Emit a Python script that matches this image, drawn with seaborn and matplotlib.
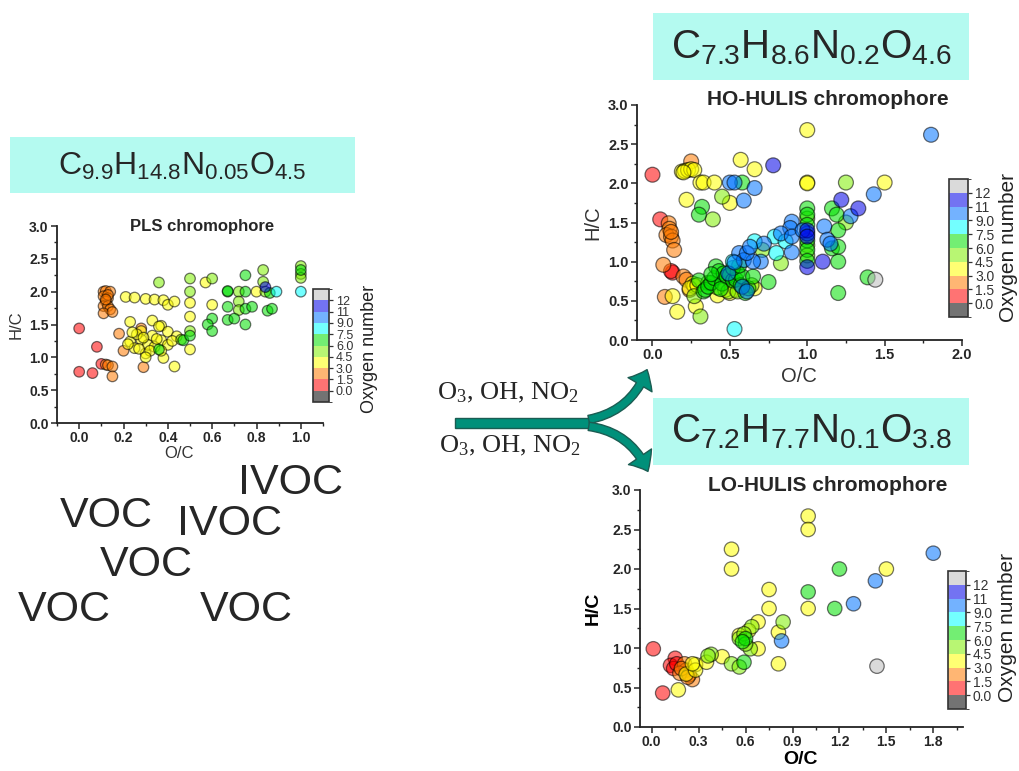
import numpy as np
import pandas as pd
import matplotlib
matplotlib.use('Agg')
import matplotlib.pyplot as plt
import matplotlib.colors as mcolors
from matplotlib.patches import Rectangle, FancyArrowPatch
from matplotlib.ticker import MultipleLocator, FormatStrFormatter
import seaborn as sns

sns.set_style('ticks')
plt.rcParams['font.family'] = ['Liberation Sans', 'DejaVu Sans']

# ---- dados: PLS chromophore (O/C, H/C, numero de oxigenios) ----
pls_oc = [0.00, 0.00, 0.06, 0.08, 0.10,
          0.11, 0.12, 0.14, 0.11, 0.13, 0.12, 0.11, 0.13, 0.14, 0.11, 0.15, 0.13, 0.12,
          0.12, 0.13, 0.15, 0.15, 0.18, 0.20, 0.29, 0.28,
          0.21, 0.25, 0.30, 0.34, 0.38, 0.40, 0.43,
          0.23, 0.28, 0.33, 0.37, 0.40, 0.23, 0.28, 0.25, 0.30, 0.33, 0.37, 0.38, 0.40,
          0.44, 0.43, 0.31, 0.34, 0.36, 0.26, 0.22, 0.27, 0.29, 0.32, 0.35, 0.30, 0.37,
          0.24, 0.42, 0.50, 0.50, 0.50, 0.57, 0.60, 0.80,
          0.36, 0.50, 0.50, 0.50, 0.60, 0.72, 0.72, 0.72, 0.83, 0.83, 0.84, 1.00, 1.00,
          1.00, 0.46,
          0.36, 0.47, 0.50, 0.60, 0.58, 0.60, 0.67, 0.75, 0.75, 0.86, 0.67, 0.75, 0.78,
          0.67, 0.70, 0.75, 0.85, 0.87, 1.00, 0.67,
          0.84, 0.89, 1.00]
pls_hc = [1.44, 0.78, 0.76, 1.16, 0.90,
          2.00, 2.01, 2.00, 1.93, 1.90, 1.85, 1.78, 1.78, 1.73, 1.67, 1.69, 1.95, 1.88,
          0.89, 0.88, 0.86, 0.71, 1.36, 1.10, 0.85, 1.44,
          1.92, 1.91, 1.89, 1.88, 1.87, 1.80, 1.85,
          1.54, 1.40, 1.56, 1.48, 1.39, 1.24, 1.27, 1.14, 1.06, 1.33, 1.26, 0.99, 1.19,
          1.32, 0.86, 1.19, 1.16, 1.47, 1.35, 1.20, 1.13, 1.30, 1.10, 1.28, 1.00, 1.10,
          1.38, 1.25, 1.83, 1.62, 1.12, 2.14, 1.80, 2.00,
          2.14, 2.20, 2.00, 1.40, 2.20, 2.00, 1.85, 1.72, 2.33, 2.15, 2.00, 2.39, 2.27,
          2.21, 1.27,
          1.12, 1.26, 1.33, 1.59, 1.50, 1.40, 2.00, 2.00, 2.25, 1.98, 1.77, 1.74, 1.77,
          1.57, 1.59, 1.50, 1.71, 1.74, 2.33, 2.01,
          2.07, 2.00, 2.00]
pls_ox = [1] * 5 + [2] * 21 + [3] * 7 + [4] * 34 + [5] * 15 + [6] * 20 + [11, 8, 8]

# ---- dados: HO-HULIS chromophore ----
ho_oc = [0.00, 0.05, 0.13, 0.12,
         0.25, 0.105, 0.11, 0.09, 0.12, 0.13, 0.14, 0.07, 0.20, 0.22, 0.08, 0.24, 0.12,
         0.19, 0.21, 0.23, 0.25, 0.27, 0.20, 0.57, 0.66, 0.31, 0.33, 0.40, 0.22, 0.50,
         1.00, 1.00, 1.00, 1.50, 0.13, 0.16, 0.28, 0.26, 0.27, 0.24, 0.29, 0.42, 0.50,
         0.47, 0.54, 0.66,
         0.45, 0.39, 0.31, 0.27, 0.42, 0.49, 0.55, 0.64, 0.36, 0.83, 0.71, 1.25, 1.25,
         1.00, 1.00, 1.00,
         0.58, 0.32, 0.30, 0.30, 0.33, 0.34, 0.36, 0.38, 0.40, 0.41, 0.43, 0.45, 0.46,
         0.48, 0.50, 0.52, 0.54, 0.55, 0.57, 0.58, 0.60, 0.62, 0.65, 0.44, 0.52, 0.56,
         0.38, 0.75, 1.00, 1.00, 1.00, 1.00, 1.00, 1.00, 1.16, 1.19, 1.20, 1.16, 1.20,
         1.20, 1.39, 1.20,
         0.66, 0.53, 0.52, 0.79, 0.86, 0.80,
         0.50, 0.53, 0.66, 0.59, 1.80, 1.43, 1.28, 1.11, 1.13, 1.15, 0.90, 0.89, 0.83,
         0.90, 0.90, 0.72, 0.70, 0.56, 0.59, 0.65, 0.58, 0.61, 0.49, 0.53, 0.61, 0.63,
         1.00, 0.97,
         0.78, 1.22, 1.33, 1.10, 1.00, 1.00, 1.00,
         1.44]
ho_hc = [2.11, 1.54, 0.86, 0.88,
         2.28, 1.49, 1.42, 1.34, 1.32, 1.27, 1.15, 0.96, 0.81, 0.77, 0.55, 0.64, 1.38,
         2.15, 2.16, 2.17, 2.18, 2.17, 2.14, 2.30, 2.18, 2.01, 2.01, 2.01, 1.79, 1.75,
         2.68, 2.01, 2.00, 2.01, 0.56, 0.36, 0.43, 0.72, 0.69, 0.66, 0.70, 0.57, 0.60,
         0.64, 0.64, 0.66,
         1.83, 1.54, 0.30, 0.56, 0.67, 0.62, 0.62, 0.70, 0.73, 0.98, 1.15, 2.01, 1.50,
         1.55, 1.21, 1.08,
         2.01, 1.70, 1.60, 0.76, 0.62, 0.64, 0.68, 0.73, 0.79, 0.94, 0.88, 0.72, 0.85,
         0.81, 0.83, 0.76, 0.77, 0.86, 0.70, 0.81, 0.60, 0.66, 0.81, 0.65, 0.92, 0.95,
         0.84, 0.74, 1.68, 1.60, 1.47, 1.27, 1.15, 1.01, 1.68, 1.60, 1.40, 1.17, 1.19,
         1.00, 0.80, 0.60,
         1.26, 0.14, 1.00, 1.32, 1.26, 1.11,
         2.01, 2.01, 1.94, 1.78, 2.62, 1.86, 1.58, 1.45, 1.28, 1.23, 1.51, 1.43, 1.36,
         1.32, 1.12, 1.23, 1.00, 1.11, 1.02, 1.00, 0.68, 0.62, 0.85, 0.99, 1.11, 1.19,
         1.36, 1.40,
         2.23, 1.79, 1.68, 1.00, 0.93, 1.40, 1.32,
         0.77]
ho_ox = [1] * 4 + [2] * 13 + [4] * 29 + [5] * 16 + [7] * 42 + [8] * 6 + [10] * 28 + [11] * 7 + [13]

# ---- dados: LO-HULIS chromophore ----
lo_oc = [0.01, 0.07, 0.15, 0.12, 0.14, 0.16,
         0.21, 0.22, 0.18, 0.26, 0.24, 0.19, 0.23,
         0.17, 0.22, 0.28, 0.28, 0.26, 0.35, 0.45, 0.51, 0.51, 0.75, 0.75, 0.68, 0.68,
         0.81, 0.81, 1.00, 1.00, 1.00, 1.50, 0.62, 0.56,
         0.38, 0.51, 0.56, 0.84, 0.64, 0.56, 0.59, 0.63, 0.36, 0.60,
         0.59, 0.60, 1.00, 1.17, 1.20, 0.58,
         0.83, 1.29, 1.43, 1.80,
         1.44]
lo_hc = [0.99, 0.43, 0.87, 0.78, 0.74, 0.80,
         0.80, 0.72, 0.68, 0.60, 0.66, 0.74, 0.63,
         0.47, 0.67, 0.79, 0.72, 0.80, 0.82, 0.89, 2.25, 2.00, 1.74, 1.50, 1.33, 0.99,
         1.20, 0.80, 2.67, 2.50, 1.50, 2.00, 1.22, 1.16,
         0.92, 0.80, 0.76, 1.33, 1.27, 1.12, 1.18, 0.99, 0.90, 1.05,
         0.82, 1.12, 1.71, 1.50, 2.00, 1.08,
         1.09, 1.56, 1.85, 2.20,
         0.77]
lo_ox = [1] * 6 + [2] * 7 + [4] * 21 + [5] * 10 + [7] * 6 + [10] * 4 + [13]

# escala discreta do numero de oxigenios
limites = [-1.5, 0, 1.5, 3, 4.5, 6, 7.5, 9, 11, 12, 13.5]
marcas_cb = [0, 1.5, 3, 4.5, 6, 7.5, 9, 11, 12]
rotulos_cb = ['0.0', '1.5', '3.0', '4.5', '6.0', '7.5', '9.0', '11', '12']
cores = ['#000000', '#ff0000', '#ff7a00', '#ffff00', '#7ff000',
         '#00e000', '#00ffff', '#0074ff', '#0000e8', '#bdbdbd']
cmap = mcolors.ListedColormap(cores)
norm = mcolors.BoundaryNorm(limites, cmap.N)
ALFA = 0.55

W, H = 1019, 771
fig = plt.figure(figsize=(W / 100, H / 100), dpi=100)


def px(x0, y0, x1, y1):
    # caixa em pixels (y para baixo) -> fracao da figura
    return [x0 / W, 1 - y1 / H, (x1 - x0) / W, (y1 - y0) / H]


# camada de fundo para caixas, textos e setas
fundo = fig.add_axes([0, 0, 1, 1])
fundo.set_xlim(0, W)
fundo.set_ylim(H, 0)
fundo.axis('off')

caixa = '#b4faf0'
for (x0, y0, x1, y1) in [(10, 137, 355, 193), (653, 13, 969, 80), (653, 398, 969, 465)]:
    fundo.add_patch(Rectangle((x0, y0), x1 - x0, y1 - y0, facecolor=caixa, edgecolor='none'))
fundo.text(182, 166, r'$\mathregular{C_{9.9}H_{14.8}N_{0.05}O_{4.5}}$', fontsize=23,
           ha='center', va='center')
fundo.text(811, 48, r'$\mathregular{C_{7.3}H_{8.6}N_{0.2}O_{4.6}}$', fontsize=29,
           ha='center', va='center')
fundo.text(811, 432, r'$\mathregular{C_{7.2}H_{7.7}N_{0.1}O_{3.8}}$', fontsize=29,
           ha='center', va='center')

for txt, x, y in [('IVOC', 291, 483), ('VOC', 106, 516), ('IVOC', 230, 524),
                  ('VOC', 146, 565), ('VOC', 64, 610), ('VOC', 246, 610)]:
    fundo.text(x, y, txt, fontsize=31, ha='center', va='center')

reag = r'$\mathregular{O_3}$, OH, $\mathregular{NO_2}$'
fundo.text(508, 393, reag, fontsize=19, family='Liberation Serif', ha='center', va='center')
fundo.text(510, 446, reag, fontsize=19, family='Liberation Serif', ha='center', va='center')

verde = '#00907a'
borda = '#1b5c52'
fundo.add_patch(Rectangle((455, 418), 135, 10, facecolor=verde, edgecolor=borda, lw=1))
estilo = 'simple,head_length=12,head_width=20,tail_width=6'
fundo.add_patch(FancyArrowPatch((586, 420), (648, 367), arrowstyle=estilo,
                                connectionstyle='arc3,rad=0.3', facecolor=verde,
                                edgecolor=borda, lw=1))
fundo.add_patch(FancyArrowPatch((586, 426), (649, 474), arrowstyle=estilo,
                                connectionstyle='arc3,rad=-0.3', facecolor=verde,
                                edgecolor=borda, lw=1))


def painel(caixa_ax, caixa_cb, oc, hc, ox, titulo, pos_tit, xlim, xmaj, xmin, s,
           fs_tick, fs_lab, negrito, pos_xl, pos_yl, fs_cb, cb_lab_xy, fs_cblab):
    ax = fig.add_axes(px(*caixa_ax))
    ax.patch.set_alpha(0)
    df = pd.DataFrame({'oc': oc, 'hc': hc, 'ox': ox})
    sns.scatterplot(data=df, x='oc', y='hc', hue='ox', palette=cmap, hue_norm=norm,
                    s=s, alpha=ALFA, edgecolor='black', linewidth=0.9, legend=False, ax=ax)
    ax.set_xlim(*xlim)
    ax.set_ylim(0, 3.0)
    ax.xaxis.set_major_locator(MultipleLocator(xmaj))
    ax.xaxis.set_minor_locator(MultipleLocator(xmin))
    ax.yaxis.set_major_locator(MultipleLocator(0.5))
    ax.yaxis.set_minor_locator(MultipleLocator(0.25))
    ax.xaxis.set_major_formatter(FormatStrFormatter('%.1f'))
    ax.yaxis.set_major_formatter(FormatStrFormatter('%.1f'))
    sns.despine(ax=ax)
    for lado in ['left', 'bottom']:
        ax.spines[lado].set_linewidth(1.3)
        ax.spines[lado].set_color('#222222')
    ax.tick_params(which='major', direction='out', length=4, width=1.1, labelsize=fs_tick,
                   pad=2)
    ax.tick_params(which='minor', direction='out', length=2.5, width=1.0)
    for t in ax.get_xticklabels() + ax.get_yticklabels():
        t.set_fontweight('bold')
    peso = 'bold' if negrito else 'normal'
    cor = 'black' if negrito else '#333333'
    ax.set_xlabel('O/C', fontsize=fs_lab, fontweight=peso, color=cor)
    ax.set_ylabel('H/C', fontsize=fs_lab, fontweight=peso, color=cor)
    ax.xaxis.set_label_coords(*pos_xl)
    ax.yaxis.set_label_coords(*pos_yl)
    ax.text(pos_tit[0], pos_tit[1], titulo, transform=ax.transAxes, fontsize=pos_tit[2],
            fontweight='bold', ha='center', va='center')

    cax = fig.add_axes(px(*caixa_cb))
    sm = plt.cm.ScalarMappable(norm=norm, cmap=cmap)
    cb = fig.colorbar(sm, cax=cax, ticks=marcas_cb, spacing='uniform', alpha=ALFA)
    cb.ax.set_yticklabels(rotulos_cb)
    cb.ax.tick_params(labelsize=fs_cb, length=3, width=0.9, colors='#333333', pad=2)
    cb.outline.set_linewidth(1.2)
    cb.outline.set_edgecolor('#333333')
    fundo.text(cb_lab_xy[0], cb_lab_xy[1], 'Oxygen number', fontsize=fs_cblab,
               rotation=90, ha='center', va='center', color='#222222')
    return ax


painel((57, 226, 323, 423), (313, 289, 329, 402), pls_oc, pls_hc, pls_ox,
       'PLS chromophore', (0.545, 1.0, 12), (-0.1, 1.1), 0.2, 0.1, 58,
       10, 12, False, (0.46, -0.115), (-0.125, 0.5), 9, (370, 349), 13)

painel((637, 105, 962, 340), (949, 179, 968, 317), ho_oc, ho_hc, ho_ox,
       'HO-HULIS chromophore', (0.588, 1.022, 15), (-0.1, 2.0), 0.5, 0.25, 115,
       10.5, 14.5, False, (0.498, -0.115), (-0.105, 0.5), 10, (1009, 247), 15)

painel((640, 490, 963, 727), (948, 571, 966, 709), lo_oc, lo_hc, lo_ox,
       'LO-HULIS chromophore', (0.582, 1.017, 15), (-0.075, 1.99), 0.3, 0.15, 108,
       10, 14, True, (0.498, -0.1), (-0.118, 0.5), 10, (1008, 628), 15)

fig.savefig('out.png', dpi=100)
